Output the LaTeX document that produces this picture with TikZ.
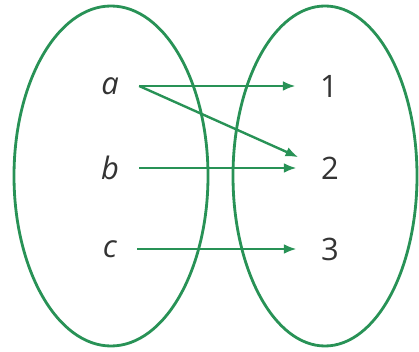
\documentclass[tikz,border=0pt]{standalone}
\usepackage{fontspec}
\setmainfont{Open Sans}
\usepackage{tikz}
\usetikzlibrary{arrows.meta}

\definecolor{setgreen}{RGB}{40,146,86}
\tikzset{
    setline/.style={draw=setgreen, line width=2pt},
    elem/.style={font=\fontsize{22}{26}\selectfont, text=black!80},
    maparrow/.style={draw=setgreen, line width=1.7pt, -{Latex[length=9pt,width=7pt]},
        shorten >=14pt}
}

\begin{document}
\begin{tikzpicture}[x=0.025cm, y=-0.025cm]
    \useasboundingbox (0,0) rectangle (419,352);

    % The two sets
    \draw[setline] (111,176) ellipse [x radius=97, y radius=170];
    \draw[setline] (325,176) ellipse [x radius=92, y radius=170];

    % Elements
    \node[elem] (a) at (110,86) {\itshape a};
    \node[elem] (b) at (110,168) {\itshape b};
    \node[elem] (c) at (110,249) {\itshape c};
    \node[elem] (n1) at (329,86) {1};
    \node[elem] (n2) at (330,168) {2};
    \node[elem] (n3) at (330,249) {3};

    % Start points of the arrows
    \coordinate (sa) at ([xshift=11pt]a.east);
    \coordinate (sb) at ([xshift=11pt]b.east);
    \coordinate (sc) at ([xshift=11pt]c.east);

    % The mapping
    \draw[maparrow] (sa) -- (n1.west);
    \draw[maparrow] (sa) -- ([yshift=2pt]n2.west);
    \draw[maparrow] (sb) -- (n2.west);
    \draw[maparrow] (sc) -- (n3.west);
\end{tikzpicture}
\end{document}
